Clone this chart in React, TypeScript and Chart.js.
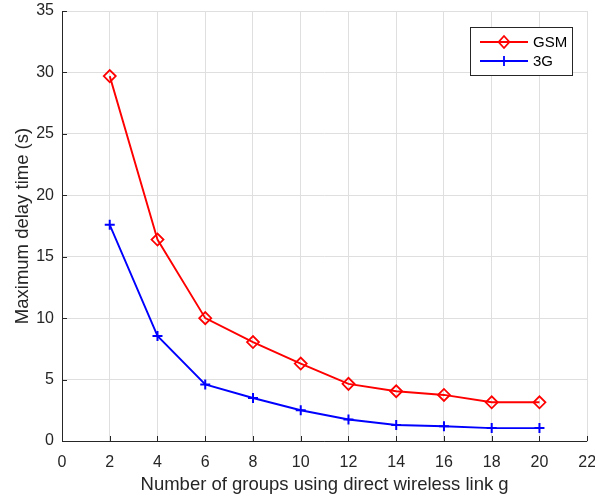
import { useEffect, useRef } from 'react';
import { Chart, registerables } from 'chart.js';

Chart.register(...registerables);

// Number of groups on a direct wireless link
const groupCounts = [2, 4, 6, 8, 10, 12, 14, 16, 18, 20];
// Maximum delay (seconds) per network type
const gsmDelay = [29.7, 16.4, 10.0, 8.05, 6.3, 4.65, 4.05, 3.75, 3.15, 3.15];
const g3Delay = [17.6, 8.55, 4.6, 3.5, 2.5, 1.75, 1.3, 1.2, 1.05, 1.05];

const xTickValues = [0, 2, 4, 6, 8, 10, 12, 14, 16, 18, 20, 22];
const yTickValues = [0, 5, 10, 15, 20, 25, 30, 35];

const seriesLabels = ['GSM', '3G'];
const seriesColors = ['#ff0000', '#0000ff'];

const FONT = "'Liberation Sans', Arial, Helvetica, sans-serif";
const AXIS_COLOR = 'rgb(38,38,38)';
const GRID_COLOR = 'rgb(223,223,223)';

function drawDiamond(ctx: CanvasRenderingContext2D, x: number, y: number, r: number) {
  ctx.beginPath();
  ctx.moveTo(x, y - r);
  ctx.lineTo(x + r * 0.9, y);
  ctx.lineTo(x, y + r);
  ctx.lineTo(x - r * 0.9, y);
  ctx.closePath();
  ctx.stroke();
}

function drawPlus(ctx: CanvasRenderingContext2D, x: number, y: number, r: number) {
  ctx.beginPath();
  ctx.moveTo(x - r, y);
  ctx.lineTo(x + r, y);
  ctx.moveTo(x, y - r);
  ctx.lineTo(x, y + r);
  ctx.stroke();
}

// Axis lines with inward ticks (left and bottom) plus a boxed legend
const matlabAxes = {
  id: 'matlabAxes',
  afterDatasetsDraw(chart: any) {
    const { ctx, chartArea, scales } = chart;
    const { left, right, top, bottom } = chartArea;
    ctx.save();
    ctx.strokeStyle = AXIS_COLOR;
    ctx.lineWidth = 1;
    ctx.beginPath();
    ctx.moveTo(left + 0.5, top);
    ctx.lineTo(left + 0.5, bottom + 0.5);
    ctx.lineTo(right, bottom + 0.5);
    ctx.stroke();
    const tl = 5;
    ctx.beginPath();
    for (const v of xTickValues) {
      const px = Math.round(scales.x.getPixelForValue(v)) + 0.5;
      ctx.moveTo(px, bottom);
      ctx.lineTo(px, bottom - tl);
    }
    for (const v of yTickValues) {
      const py = Math.round(scales.y.getPixelForValue(v)) + 0.5;
      ctx.moveTo(left, py);
      ctx.lineTo(left + tl, py);
    }
    ctx.stroke();
    ctx.restore();
  },
  afterDraw(chart: any) {
    const { ctx } = chart;
    const bx = 470.5;
    const by = 27.5;
    const bw = 102;
    const bh = 48;
    ctx.save();
    ctx.fillStyle = '#ffffff';
    ctx.fillRect(bx, by, bw, bh);
    ctx.strokeStyle = AXIS_COLOR;
    ctx.lineWidth = 1;
    ctx.strokeRect(bx, by, bw, bh);
    const rows = [42, 61];
    chart.data.datasets.forEach((ds: any, i: number) => {
      const y = rows[i];
      ctx.strokeStyle = ds.borderColor;
      ctx.lineWidth = 1.8;
      ctx.beginPath();
      ctx.moveTo(480, y);
      ctx.lineTo(528, y);
      ctx.stroke();
      if (i === 0) drawDiamond(ctx, 504, y, 6);
      else drawPlus(ctx, 504, y, 5);
      ctx.fillStyle = '#000000';
      ctx.font = `15px ${FONT}`;
      ctx.textAlign = 'left';
      ctx.textBaseline = 'middle';
      ctx.fillText(ds.label, 533, y + 1);
    });
    ctx.restore();
  },
};

export default function App() {
  const canvasRef = useRef<HTMLCanvasElement | null>(null);

  useEffect(() => {
    const canvas = canvasRef.current;
    if (!canvas) return;
    const chart = new Chart(canvas, {
      type: 'line',
      data: {
        datasets: [
          {
            label: seriesLabels[0],
            data: groupCounts.map((g, i) => ({ x: g, y: gsmDelay[i] })),
            borderColor: seriesColors[0],
            backgroundColor: 'rgba(0,0,0,0)',
            borderWidth: 1.9,
            pointStyle: 'rectRot',
            pointRadius: 6,
            pointBorderWidth: 1.8,
            pointBorderColor: seriesColors[0],
            pointBackgroundColor: 'rgba(0,0,0,0)',
            tension: 0,
          },
          {
            label: seriesLabels[1],
            data: groupCounts.map((g, i) => ({ x: g, y: g3Delay[i] })),
            borderColor: seriesColors[1],
            backgroundColor: 'rgba(0,0,0,0)',
            borderWidth: 1.9,
            pointStyle: 'cross',
            pointRadius: 5,
            pointBorderWidth: 2,
            pointBorderColor: seriesColors[1],
            tension: 0,
          },
        ],
      },
      options: {
        responsive: false,
        animation: false,
        events: [],
        layout: { padding: { top: 11, right: 7, left: 0, bottom: 0 } },
        plugins: {
          legend: { display: false },
          tooltip: { enabled: false },
        },
        scales: {
          x: {
            type: 'linear',
            min: 0,
            max: 22,
            afterBuildTicks: (scale: any) => {
              scale.ticks = xTickValues.map((v) => ({ value: v }));
            },
            afterFit: (scale: any) => {
              scale.height = 58;
              scale.paddingLeft = 0;
              scale.paddingRight = 0;
            },
            grid: { color: GRID_COLOR, drawTicks: false, lineWidth: 1 },
            border: { display: false },
            ticks: {
              color: AXIS_COLOR,
              font: { family: FONT, size: 16 },
              padding: 12,
              maxRotation: 0,
              autoSkip: false,
            },
            title: {
              display: true,
              text: 'Number of groups using direct wireless link g',
              color: AXIS_COLOR,
              font: { family: FONT, size: 18.5 },
              padding: { top: 0, bottom: 3 },
            },
          },
          y: {
            type: 'linear',
            min: 0,
            max: 35,
            afterBuildTicks: (scale: any) => {
              scale.ticks = yTickValues.map((v) => ({ value: v }));
            },
            afterFit: (scale: any) => {
              scale.width = 62;
              scale.paddingTop = 0;
              scale.paddingBottom = 0;
            },
            grid: { color: GRID_COLOR, drawTicks: false, lineWidth: 1 },
            border: { display: false },
            ticks: {
              color: AXIS_COLOR,
              font: { family: FONT, size: 16 },
              padding: 8,
              autoSkip: false,
            },
            title: {
              display: true,
              text: 'Maximum delay time (s)',
              color: AXIS_COLOR,
              font: { family: FONT, size: 18.5 },
              padding: { top: 12, bottom: 0 },
            },
          },
        },
      },
      plugins: [matlabAxes],
    });
    return () => chart.destroy();
  }, []);

  return (
    <div style={{ position: 'fixed', left: 0, top: 0, width: 595, height: 499, background: '#ffffff' }}>
      <canvas ref={canvasRef} width={595} height={499} />
    </div>
  );
}
